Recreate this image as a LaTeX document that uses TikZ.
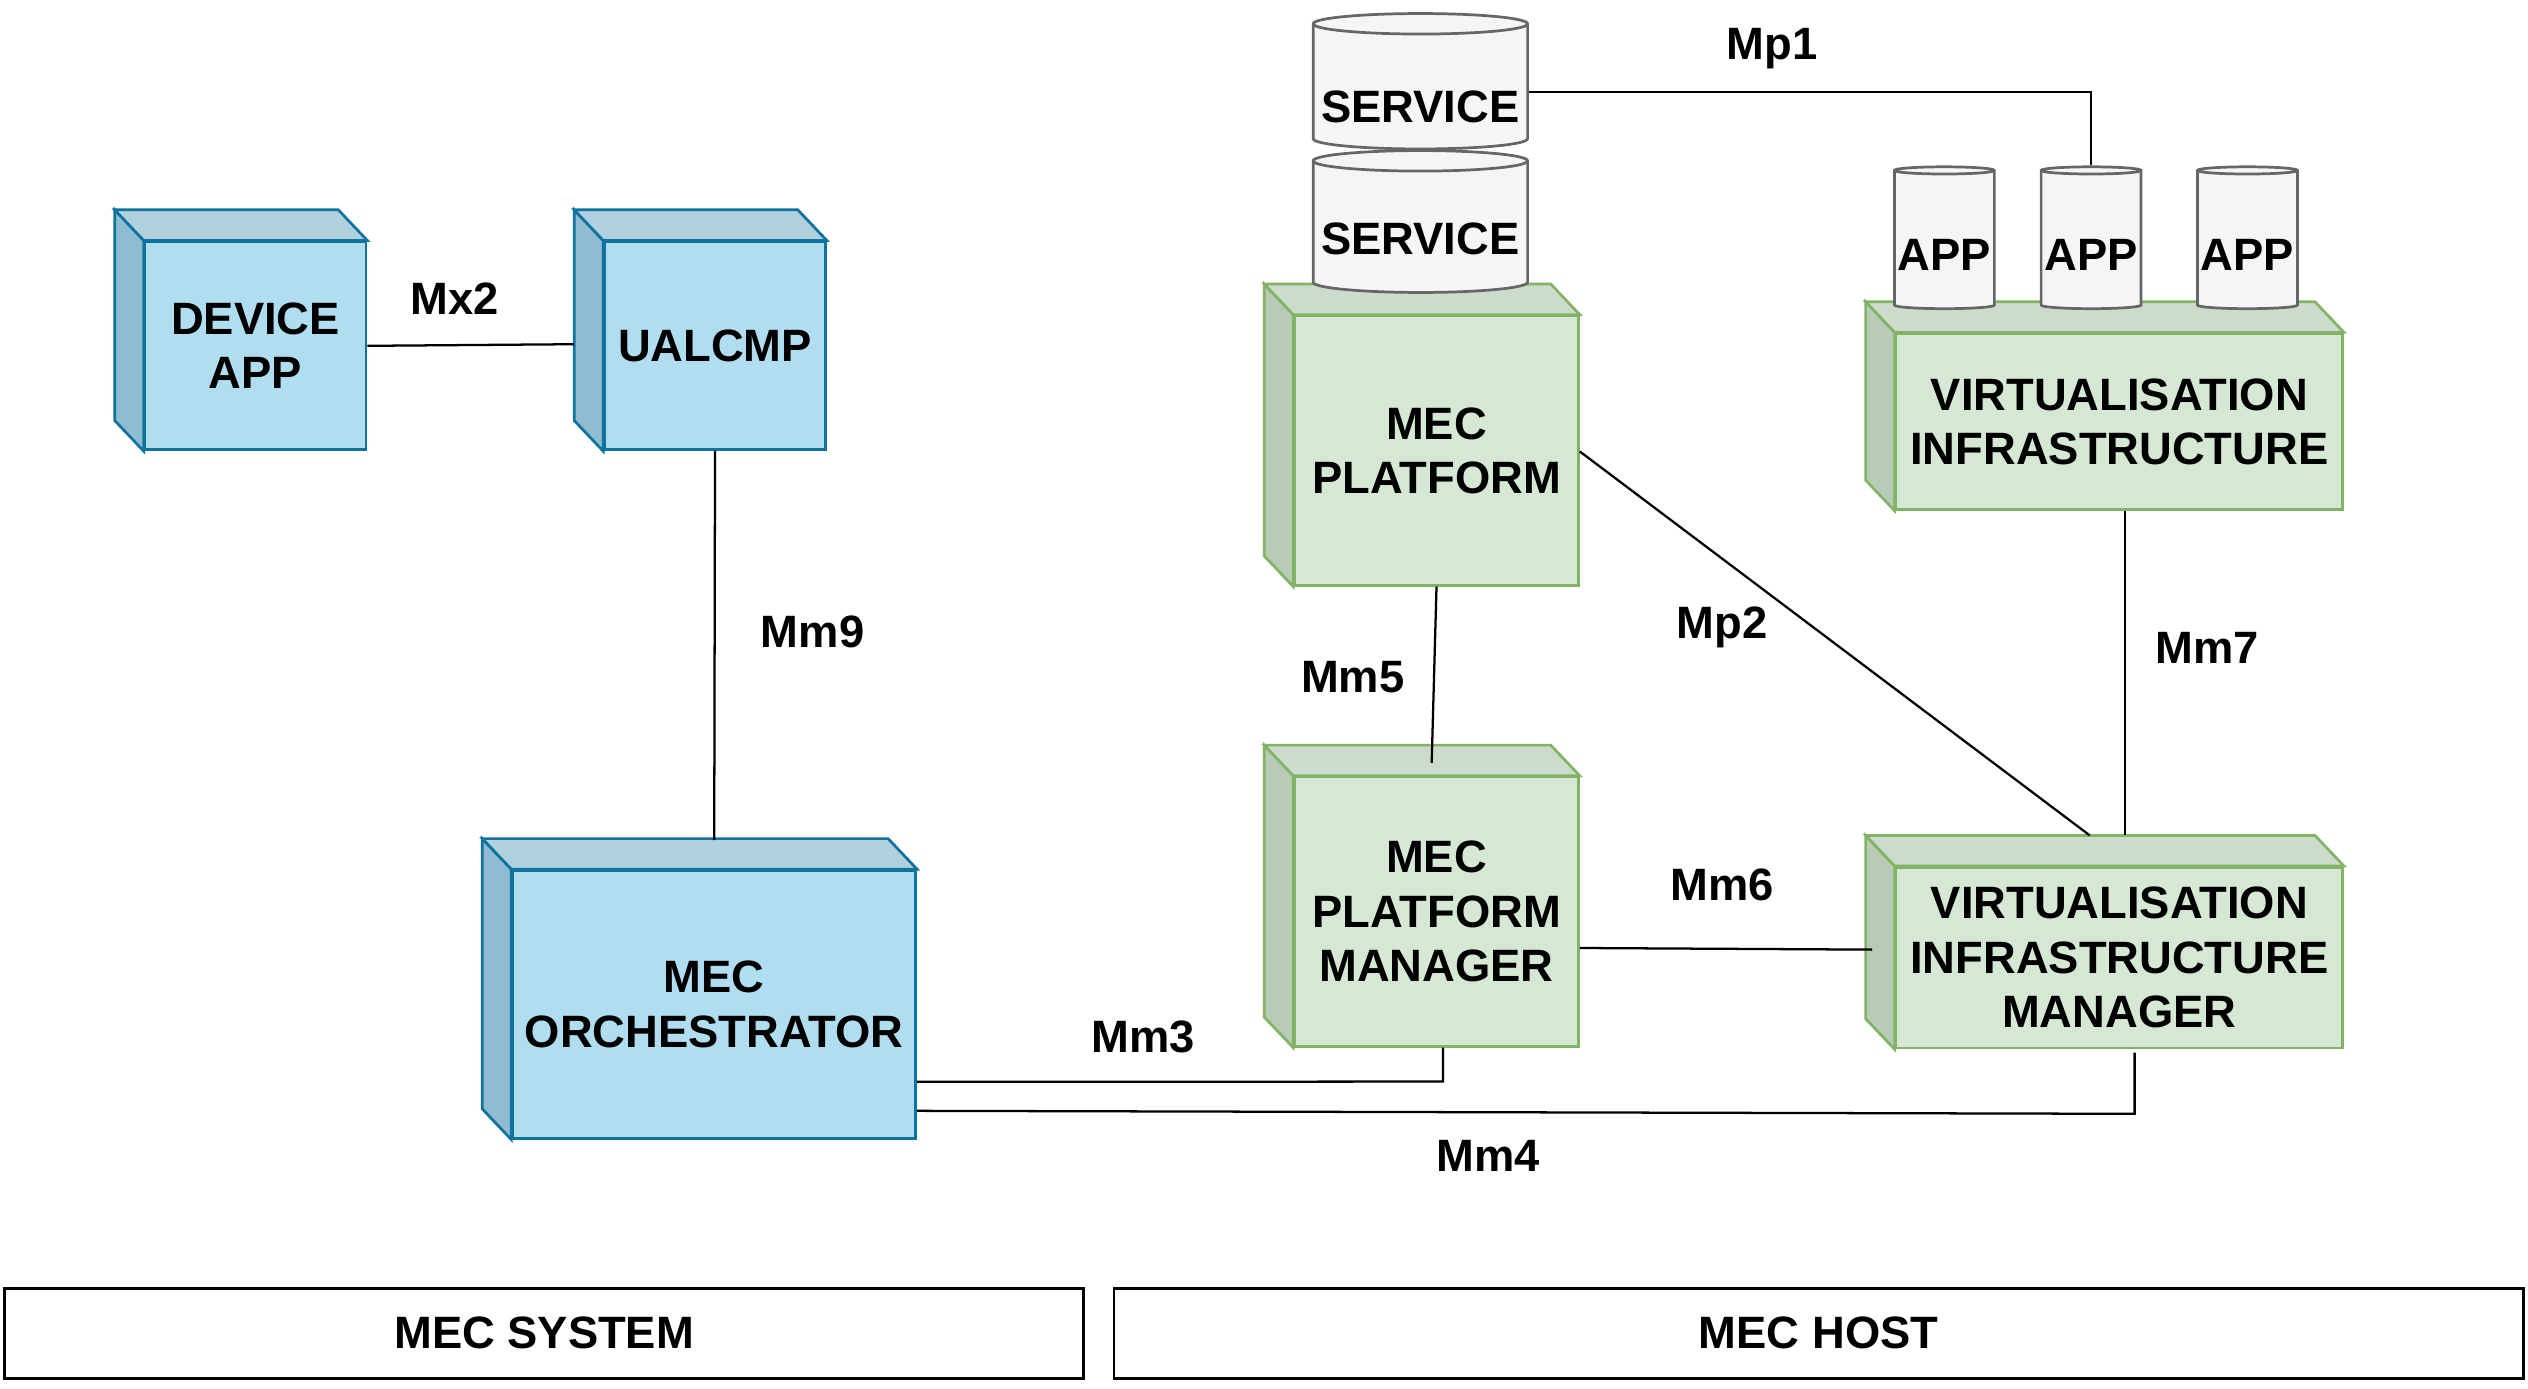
\documentclass[tikz,border=0pt]{standalone}
\usepackage{fontspec}
\setmainfont{Liberation Sans}
\usetikzlibrary{shapes.geometric, calc, positioning}

\definecolor{bluefill}{HTML}{B1DDF0}
\definecolor{blueline}{HTML}{10739E}
\definecolor{blueside}{HTML}{8FBCD0}
\definecolor{greenfill}{HTML}{D5E8D4}
\definecolor{greenline}{HTML}{82B366}
\definecolor{greenside}{HTML}{B8CBB7}
\definecolor{cylfill}{HTML}{F5F5F5}
\definecolor{cylline}{HTML}{666666}

\tikzset{
  lbl/.style={font=\fontsize{20}{24}\selectfont\bfseries, align=center},
  blue box/.style={draw=blueline, fill=bluefill, line width=1.2pt, lbl, inner sep=0pt},
  green box/.style={draw=greenline, fill=greenfill, line width=1.2pt, lbl, inner sep=0pt},
  store/.style={cylinder, shape border rotate=90, aspect=0.22, draw=cylline, fill=cylfill,
    line width=1.2pt, lbl, inner sep=0pt},
  link/.style={draw=black, line width=1pt},
  bar/.style={draw=black, line width=1.2pt, lbl, inner sep=0pt},
}

\begin{document}
\begin{tikzpicture}[x=0.025cm, y=-0.025cm]
\useasboundingbox (0,0) rectangle (1568,861);

% blue blocks
\node[blue box, minimum width=137*0.025cm, minimum height=129*0.025cm] (dev) at (158.5,214.5) {DEVICE\\APP};
\node[blue box, minimum width=137*0.025cm, minimum height=129*0.025cm] (ual) at (443.5,214.5) {UALCMP};
\node[blue box, minimum width=250*0.025cm, minimum height=166*0.025cm] (orch) at (443,623) {MEC\\ORCHESTRATOR};
% green blocks
\node[green box, minimum width=176*0.025cm, minimum height=167*0.025cm] (plat) at (891,279.5) {MEC\\PLATFORM};
\node[green box, minimum width=176*0.025cm, minimum height=167*0.025cm] (pman) at (891,565.5) {MEC\\PLATFORM\\MANAGER};
\node[green box, minimum width=277*0.025cm, minimum height=109*0.025cm] (virt) at (1314.5,261.5) {VIRTUALISATION\\INFRASTRUCTURE};
\node[green box, minimum width=277*0.025cm, minimum height=112*0.025cm] (vman) at (1314.5,594) {VIRTUALISATION\\INFRASTRUCTURE\\MANAGER};

% side and top faces
\foreach \n/\c/\s in {dev/blueline/blueside, ual/blueline/blueside, orch/blueline/blueside,
    plat/greenline/greenside, pman/greenline/greenside, virt/greenline/greenside, vman/greenline/greenside}{
  \draw[draw=\c, fill=\s, line width=1.2pt] (\n.north west) -- ++(-18,-19) -- ($(\n.south west)+(-18,-19)$) -- (\n.south west) -- cycle;
  \draw[draw=\c, fill=\s!70!white, line width=1.2pt] (\n.north west) -- ++(-18,-19) -- ($(\n.north east)+(-18,-19)$) -- (\n.north east) -- cycle;
}

% stores
\node[store, minimum width=133*0.025cm, minimum height=88*0.025cm] (svc2) at (881,141) {\phantom{APP}};
\node[store, minimum width=133*0.025cm, minimum height=84*0.025cm] (svc1) at (881,54) {\phantom{APP}};
\foreach \i/\x in {1/1206, 2/1297, 3/1394}
  \node[store, minimum width=62*0.025cm, minimum height=88*0.025cm] (app\i) at (\x,149) {\phantom{A}};
\node[lbl] (svc2-t) at ($(svc2.center)+(0,7)$) {SERVICE};
\node[lbl] (svc1-t) at ($(svc1.center)+(0,12)$) {SERVICE};
\foreach \i in {1,2,3}
  \node[lbl] (app\i-t) at ($(app\i.center)+(0,9)$) {APP};

% reference points
\path ($(ual.west)+(-18,-1)$) coordinate (ualw);
\path ($(orch.north)+(0,-18)$) coordinate (orchn);
\path ($(vman.north west)+(121,-19)$) coordinate (vmtop);
\path ($(vman.west)+(-14,-5)$) coordinate (vmw);

% connectors
\draw[link] (dev.east) -- (ualw);
\draw[link] (ual.south) -- (orchn);
\draw[link] (svc1.east |- 0,57) -| (app2.north);
\draw[link] (plat.south) -- ($(pman.north)+(-3,-8)$);
\draw[link] ($(plat.east)+(0,0.5)$) -- (vmtop);
\draw[link] ($(virt.south)+(3.5,0)$) -- ($(vman.north)+(3.5,-19)$);
\draw[link] ($(pman.east)+(0,22.5)$) -- (vmw);
\draw[link] ($(orch.east)+(0,48)$) -- ($(pman.south)+(4,21)$) -- ($(pman.south)+(4,0)$);
\draw[link] ($(orch.east)+(0,66)$) -- ($(vman.south)+(9.5,40)$) -- ($(vman.south)+(9.5,2)$);

% connector labels
\node[lbl] (mx2) at (282,185) {Mx2};
\node[lbl] (mm9) at (504,392) {Mm9};
\node[lbl] (mp1) at (1099,30) {Mp1};
\node[lbl] (mm5) at (839,420) {Mm5};
\node[lbl] (mp2) at (1068,389) {Mp2};
\node[lbl] (mm7) at (1369,402) {Mm7};
\node[lbl] (mm6) at (1068,549) {Mm6};
\node[lbl] (mm3) at (709,643) {Mm3};
\node[lbl] (mm4) at (923,717) {Mm4};

% bottom bars
\node[bar, minimum width=669*0.025cm, minimum height=56*0.025cm] (sys) at (337.5,827) {MEC SYSTEM};
\node[bar, minimum width=874*0.025cm, minimum height=56*0.025cm] (host) at (1128,827) {MEC HOST};
\end{tikzpicture}
\end{document}
